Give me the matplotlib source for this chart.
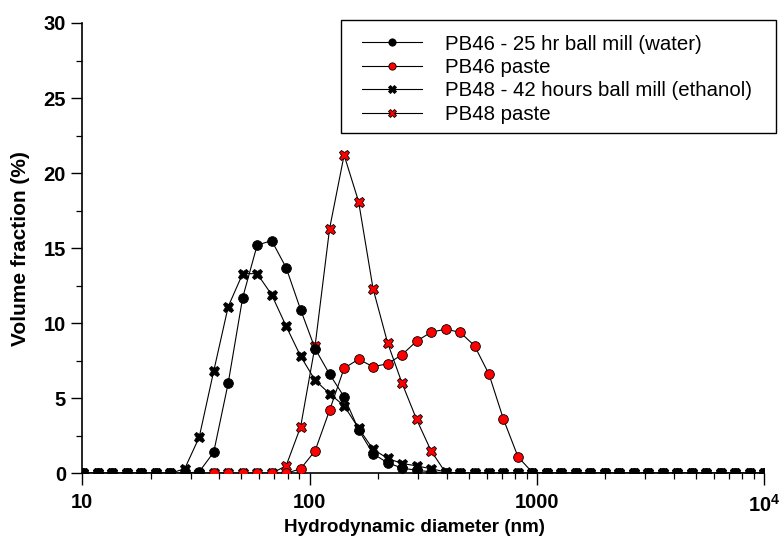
import matplotlib
matplotlib.use("Agg")
import matplotlib.pyplot as plt
from matplotlib.patches import Rectangle
from matplotlib.ticker import LogLocator, NullFormatter, FixedLocator, MultipleLocator

plt.rcParams['font.family'] = ['Liberation Sans', 'DejaVu Sans']
plt.rcParams['mathtext.fontset'] = 'custom'
plt.rcParams['mathtext.rm'] = 'Liberation Sans'
plt.rcParams['mathtext.bf'] = 'Liberation Sans:bold'

diameter_nm = [10.10, 11.70, 13.54, 15.69, 18.17, 21.04, 24.36, 28.21, 32.67, 37.84,
               43.82, 50.75, 58.77, 68.06, 78.82, 91.28, 105.7, 122.4, 141.8, 164.2,
               190.1, 220.2, 255.0, 295.3, 342.0, 396.1, 458.7, 531.2, 615.1, 712.4,
               825.0, 955.4, 1106, 1281, 1484, 1718, 1990, 2305, 2669, 3091,
               3580, 4145, 4801, 5560, 6439, 7456, 8635, 10000]

pb46_water = [0, 0, 0, 0, 0, 0, 0, 0, 0.1, 1.4,
              6.0, 11.7, 15.2, 15.5, 13.7, 10.9, 8.3, 6.6, 5.1, 2.9,
              1.3, 0.7, 0.35, 0.2, 0.1, 0.03, 0, 0, 0, 0,
              0, 0, 0, 0, 0, 0, 0, 0, 0, 0,
              0, 0, 0, 0, 0, 0, 0, 0]

pb46_paste = [0, 0, 0, 0, 0, 0, 0, 0, 0, 0,
              0, 0, 0, 0, 0, 0.3, 1.5, 4.2, 7.0, 7.6,
              7.1, 7.3, 7.9, 8.8, 9.4, 9.6, 9.4, 8.5, 6.6, 3.6,
              1.1, 0.05, 0, 0, 0, 0, 0, 0, 0, 0,
              0, 0, 0, 0, 0, 0, 0, 0]

pb48_ethanol = [0, 0, 0, 0, 0, 0, 0, 0.3, 2.4, 6.8,
                11.1, 13.3, 13.3, 11.9, 9.8, 7.8, 6.2, 5.3, 4.5, 3.0,
                1.6, 1.0, 0.65, 0.5, 0.3, 0.1, 0, 0, 0, 0,
                0, 0, 0, 0, 0, 0, 0, 0, 0, 0,
                0, 0, 0, 0, 0, 0, 0, 0]

pb48_paste = [0, 0, 0, 0, 0, 0, 0, 0, 0, 0,
              0, 0, 0, 0, 0.5, 3.1, 8.5, 16.3, 21.2, 18.1,
              12.3, 8.7, 6.0, 3.6, 1.5, 0.05, 0, 0, 0, 0,
              0, 0, 0, 0, 0, 0, 0, 0, 0, 0,
              0, 0, 0, 0, 0, 0, 0, 0]

labels = ["PB46 - 25 hr ball mill (water)", "PB46 paste",
          "PB48 - 42 hours ball mill (ethanol)", "PB48 paste"]

W, H = 781, 542
fig = plt.figure(figsize=(W/100, H/100), dpi=100)
ax = fig.add_axes([82.3/W, 68.7/H, (764.3-82.3)/W, (473.3-23)/H])

lw = 0.8
ms = 7.0
ax.plot(diameter_nm, pb46_water, color='black', lw=lw, marker='o', ms=ms,
        mfc='black', mec='black', mew=0.6, label=labels[0], zorder=5)
ax.plot(diameter_nm, pb46_paste, color='black', lw=lw, marker='o', ms=ms,
        mfc='#ff0000', mec='black', mew=0.6, label=labels[1], zorder=3)
ax.plot(diameter_nm, pb48_ethanol, color='black', lw=lw, marker='X', ms=ms+0.5,
        mfc='black', mec='black', mew=0.6, label=labels[2], zorder=4)
ax.plot(diameter_nm, pb48_paste, color='black', lw=lw, marker='X', ms=ms+0.5,
        mfc='#ff0000', mec='black', mew=0.6, label=labels[3], zorder=2)

ax.set_xscale('log')
ax.set_xlim(10, 10000)
ax.set_ylim(0, 30)

ax.spines['top'].set_visible(False)
ax.spines['right'].set_visible(False)
for s in ('left', 'bottom'):
    ax.spines[s].set_linewidth(1.2)

ax.xaxis.set_major_locator(FixedLocator([10, 100, 1000, 10000]))
ax.set_xticklabels(['10', '100', '1000', r'$\mathbf{10^4}$'])
ax.xaxis.set_minor_locator(LogLocator(base=10, subs=range(2, 10)))
ax.xaxis.set_minor_formatter(NullFormatter())
ax.yaxis.set_major_locator(MultipleLocator(5))
ax.yaxis.set_minor_locator(MultipleLocator(2.5))

ax.tick_params(axis='x', which='major', direction='out', length=8.5, width=1.0,
               labelsize=14.5, pad=6)
ax.tick_params(axis='x', which='minor', direction='out', length=4.3, width=0.9)
ax.tick_params(axis='y', which='major', direction='out', length=7.7, width=1.0,
               labelsize=14.5, pad=4)
ax.tick_params(axis='y', which='minor', direction='out', length=4.0, width=0.9)
for lab in ax.get_xticklabels() + ax.get_yticklabels():
    lab.set_fontweight('bold')

ax.set_xlabel('Hydrodynamic diameter (nm)', fontsize=13.6, fontweight='bold')
ax.xaxis.set_label_coords((414 - 82.3) / 682, -(528 - 473.3) / 450.3, transform=ax.transAxes)
ax.xaxis.label.set_va('center')
ax.set_ylabel('Volume fraction (%)', fontsize=15, fontweight='bold')
ax.yaxis.set_label_coords(-(82.3 - 21) / 682, 0.5, transform=ax.transAxes)
ax.yaxis.label.set_va('center')

leg = ax.legend(loc='upper left', bbox_to_anchor=(362/W, 1 - 34.5/H),
                bbox_transform=fig.transFigure, borderaxespad=0, borderpad=0,
                fontsize=14.7, frameon=False,
                handlelength=2.95, handletextpad=1.1, labelspacing=0.22,
                markerscale=0.75)
fig.patches.append(Rectangle((341/W, 1 - 133/H), (776-341)/W, (133-20)/H,
                             transform=fig.transFigure, fill=False,
                             edgecolor='black', linewidth=1.0, zorder=10))

fig.savefig('out.png', dpi=100)
